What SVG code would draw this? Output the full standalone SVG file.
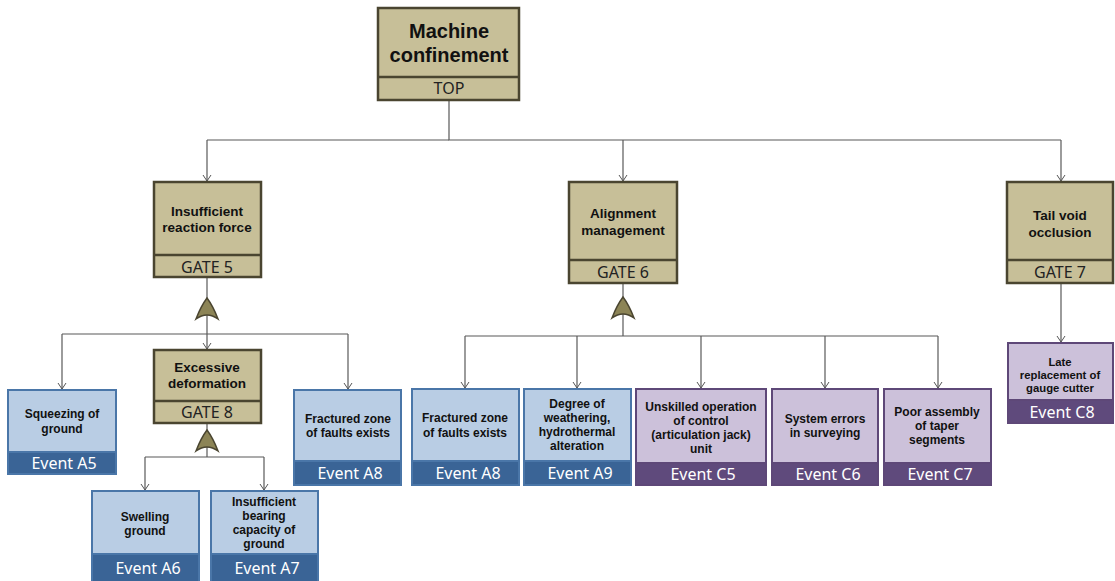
<svg xmlns="http://www.w3.org/2000/svg" width="1115" height="581" viewBox="0 0 1115 581">
  <defs>
    <marker id="arrd" markerWidth="10" markerHeight="10" refX="5" refY="8" markerUnits="userSpaceOnUse" viewBox="0 0 10 10">
      <path d="M1,2 L5,8 L9,2" fill="none" stroke="#555" stroke-width="1"/>
    </marker>
    <path id="orgate" d="M0,-11 Q6,-3 11,10 Q0,2 -11,10 Q-6,-3 0,-11 Z"/>
  </defs>
  <style>
    .gate rect { fill: #c7bf98; stroke: #4a4530; stroke-width: 2.5; }
    .gate line { stroke: #4a4530; stroke-width: 2.5; }
    .ev rect.body { fill: #b9cde4; stroke: #4a76a8; stroke-width: 2; }
    .ev rect.band { fill: #3a6496; stroke: #4a76a8; stroke-width: 2; }
    .evp rect.body { fill: #ccc1da; stroke: #5e4878; stroke-width: 2; }
    .evp rect.band { fill: #5f4a7c; stroke: #5e4878; stroke-width: 2; }
    text { font-family: "Noto Sans", "Open Sans", "Liberation Sans", sans-serif; text-anchor: middle; dominant-baseline: central; }
    .t { font-family: "Liberation Sans", Arial, sans-serif; font-size: 12px; font-weight: bold; fill: #111; }
    .ts { font-family: "Liberation Sans", Arial, sans-serif; font-size: 11.3px; font-weight: bold; fill: #111; }
    .tg { font-family: "Liberation Sans", Arial, sans-serif; font-size: 13.5px; font-weight: bold; fill: #111; }
    .tt { font-family: "Liberation Sans", Arial, sans-serif; font-size: 20px; font-weight: bold; fill: #111; }
    .lab { font-size: 16px; fill: #222; }
    .elab { font-size: 16px; fill: #fff; }
    .conn { fill: none; stroke: #595959; stroke-width: 1.2; }
    .sym use { fill: #8c8456; stroke: #4a4530; stroke-width: 1.5; }
  </style>

  <!-- connectors -->
  <g id="connectors">
    <path class="conn" d="M449,100 V140 H1061"/>
    <path class="conn" d="M207,140 H449"/>
    <path class="conn" d="M207,140 V181" marker-end="url(#arrd)"/>
    <path class="conn" d="M623,140 V181" marker-end="url(#arrd)"/>
    <path class="conn" d="M1061,140 V181" marker-end="url(#arrd)"/>

    <!-- gate 5 branch -->
    <path class="conn" d="M207,277 V334"/>
    <path class="conn" d="M62,334 H348"/>
    <path class="conn" d="M62,334 V389" marker-end="url(#arrd)"/>
    <path class="conn" d="M207,334 V349" marker-end="url(#arrd)"/>
    <path class="conn" d="M348,334 V389" marker-end="url(#arrd)"/>

    <!-- gate 8 branch -->
    <path class="conn" d="M207,423 V457"/>
    <path class="conn" d="M145,457 H264"/>
    <path class="conn" d="M145,457 V490" marker-end="url(#arrd)"/>
    <path class="conn" d="M264,457 V490" marker-end="url(#arrd)"/>

    <!-- gate 6 branch -->
    <path class="conn" d="M623,283 V336"/>
    <path class="conn" d="M465,336 H938"/>
    <path class="conn" d="M465,336 V388" marker-end="url(#arrd)"/>
    <path class="conn" d="M577,336 V388" marker-end="url(#arrd)"/>
    <path class="conn" d="M701,336 V388" marker-end="url(#arrd)"/>
    <path class="conn" d="M825,336 V388" marker-end="url(#arrd)"/>
    <path class="conn" d="M938,336 V388" marker-end="url(#arrd)"/>

    <!-- gate 7 branch -->
    <path class="conn" d="M1061,283 V342" marker-end="url(#arrd)"/>

    <!-- OR gate symbols -->
    <g class="sym">
      <use href="#orgate" x="207" y="309"/>
      <use href="#orgate" x="207" y="441"/>
      <use href="#orgate" x="623" y="308"/>
    </g>
  </g>

  <!-- top event -->
  <g id="top" class="gate">
    <rect x="378" y="8" width="141" height="92"/>
    <line x1="378" y1="77" x2="519" y2="77"/>
    <text class="tt" x="449" y="31">Machine</text>
    <text class="tt" x="449" y="55">confinement</text>
    <text class="lab" x="449" y="88">TOP</text>
  </g>

  <!-- gate 5 -->
  <g id="gate5" class="gate">
    <rect x="154" y="182" width="107" height="95"/>
    <line x1="154" y1="255" x2="261" y2="255"/>
    <text class="tg" x="207" y="211">Insufficient</text>
    <text class="tg" x="207" y="227">reaction force</text>
    <text class="lab" x="207" y="267">GATE 5</text>
  </g>

  <!-- gate 6 -->
  <g id="gate6" class="gate">
    <rect x="569" y="182" width="108" height="101"/>
    <line x1="569" y1="260" x2="677" y2="260"/>
    <text class="tg" x="623" y="213">Alignment</text>
    <text class="tg" x="623" y="230">management</text>
    <text class="lab" x="623" y="272">GATE 6</text>
  </g>

  <!-- gate 7 -->
  <g id="gate7" class="gate">
    <rect x="1007" y="182" width="106" height="101"/>
    <line x1="1007" y1="260" x2="1113" y2="260"/>
    <text class="tg" x="1060" y="215">Tail void</text>
    <text class="tg" x="1060" y="232">occlusion</text>
    <text class="lab" x="1060" y="272">GATE 7</text>
  </g>

  <!-- gate 8 -->
  <g id="gate8" class="gate">
    <rect x="154" y="350" width="107" height="73"/>
    <line x1="154" y1="401" x2="261" y2="401"/>
    <text class="tg" x="207" y="367">Excessive</text>
    <text class="tg" x="207" y="383">deformation</text>
    <text class="lab" x="207" y="412">GATE 8</text>
  </g>

  <!-- basic events -->
  <g id="eventA5" class="ev">
    <rect class="body" x="8" y="390" width="108" height="84"/>
    <rect class="band" x="8" y="452" width="108" height="22"/>
    <text class="t" x="62" y="414">Squeezing of</text>
    <text class="t" x="62" y="429">ground</text>
    <text class="elab" x="64" y="463">Event A5</text>
  </g>

  <g id="eventA6" class="ev">
    <rect class="body" x="92" y="491" width="107" height="92"/>
    <rect class="band" x="92" y="554" width="107" height="29"/>
    <text class="t" x="145" y="517">Swelling</text>
    <text class="t" x="145" y="531">ground</text>
    <text class="elab" x="148" y="568">Event A6</text>
  </g>

  <g id="eventA7" class="ev">
    <rect class="body" x="211" y="491" width="107" height="92"/>
    <rect class="band" x="211" y="554" width="107" height="29"/>
    <text class="t" x="264" y="502">Insufficient</text>
    <text class="t" x="264" y="516">bearing</text>
    <text class="t" x="264" y="530">capacity of</text>
    <text class="t" x="264" y="544">ground</text>
    <text class="elab" x="267" y="568">Event A7</text>
  </g>

  <g id="eventA8a" class="ev">
    <rect class="body" x="294" y="390" width="107" height="95"/>
    <rect class="band" x="294" y="461" width="107" height="24"/>
    <text class="t" x="348" y="419">Fractured zone</text>
    <text class="t" x="348" y="433">of faults exists</text>
    <text class="elab" x="350" y="473">Event A8</text>
  </g>

  <g id="eventA8b" class="ev">
    <rect class="body" x="412" y="389" width="107" height="96"/>
    <rect class="band" x="412" y="461" width="107" height="24"/>
    <text class="t" x="465" y="418">Fractured zone</text>
    <text class="t" x="465" y="433">of faults exists</text>
    <text class="elab" x="468" y="473">Event A8</text>
  </g>

  <g id="eventA9" class="ev">
    <rect class="body" x="524" y="389" width="107" height="96"/>
    <rect class="band" x="524" y="461" width="107" height="24"/>
    <text class="t" x="577" y="404">Degree of</text>
    <text class="t" x="577" y="418">weathering,</text>
    <text class="t" x="577" y="432">hydrothermal</text>
    <text class="t" x="577" y="446">alteration</text>
    <text class="elab" x="580" y="473">Event A9</text>
  </g>

  <g id="eventC5" class="evp">
    <rect class="body" x="636" y="389" width="130" height="96"/>
    <rect class="band" x="636" y="463" width="130" height="22"/>
    <text class="t" x="701" y="407">Unskilled operation</text>
    <text class="t" x="701" y="421">of control</text>
    <text class="t" x="701" y="435">(articulation jack)</text>
    <text class="t" x="701" y="449">unit</text>
    <text class="elab" x="703" y="474">Event C5</text>
  </g>

  <g id="eventC6" class="evp">
    <rect class="body" x="772" y="389" width="106" height="96"/>
    <rect class="band" x="772" y="463" width="106" height="22"/>
    <text class="t" x="825" y="419">System errors</text>
    <text class="t" x="825" y="433">in surveying</text>
    <text class="elab" x="828" y="474">Event C6</text>
  </g>

  <g id="eventC7" class="evp">
    <rect class="body" x="884" y="389" width="107" height="96"/>
    <rect class="band" x="884" y="463" width="107" height="22"/>
    <text class="t" x="937" y="412">Poor assembly</text>
    <text class="t" x="937" y="426">of taper</text>
    <text class="t" x="937" y="440">segments</text>
    <text class="elab" x="940" y="474">Event C7</text>
  </g>

  <g id="eventC8" class="evp">
    <rect class="body" x="1008" y="343" width="105" height="80"/>
    <rect class="band" x="1008" y="400" width="105" height="23"/>
    <text class="ts" x="1060" y="362">Late</text>
    <text class="ts" x="1060" y="375">replacement of</text>
    <text class="ts" x="1060" y="388">gauge cutter</text>
    <text class="elab" x="1062" y="412">Event C8</text>
  </g>
</svg>
